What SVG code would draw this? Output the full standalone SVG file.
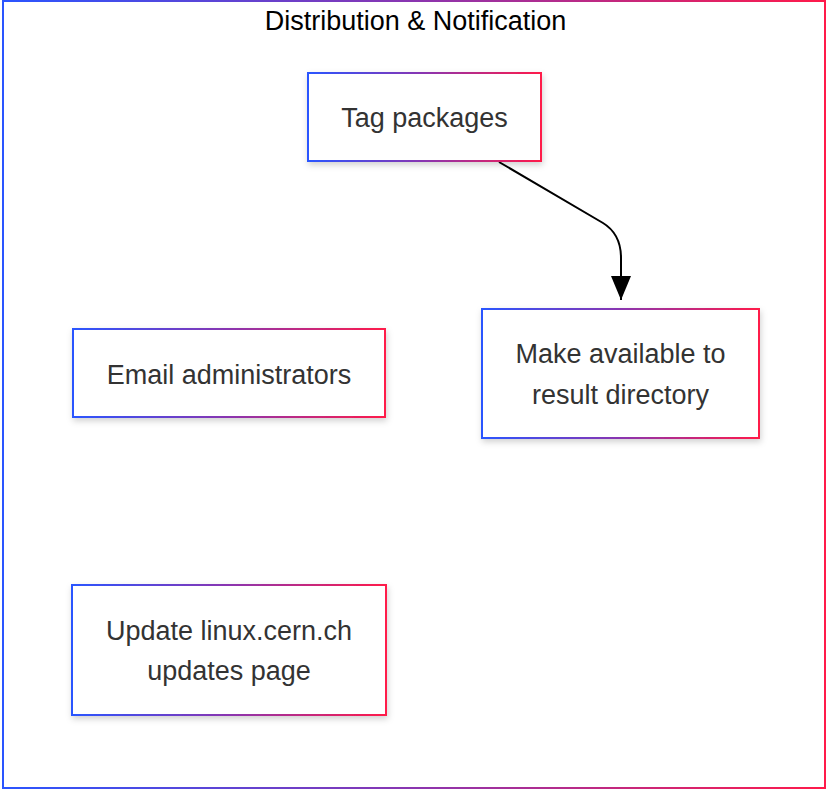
<svg xmlns="http://www.w3.org/2000/svg" width="828" height="790" viewBox="0 0 828 790">
  <defs>
    <linearGradient id="g" x1="0" y1="0" x2="1" y2="0">
      <stop offset="0" stop-color="#2a55ff"/>
      <stop offset="0.5" stop-color="#8a35b0"/>
      <stop offset="1" stop-color="#ff1a4a"/>
    </linearGradient>
    <filter id="sh" x="-10%" y="-10%" width="125%" height="130%">
      <feDropShadow dx="1" dy="3" stdDeviation="3" flood-color="#000" flood-opacity="0.18"/>
    </filter>
    <marker id="arr" viewBox="0 0 12 10" refX="12" refY="5" markerUnits="userSpaceOnUse" markerWidth="24" markerHeight="22" orient="auto">
      <path d="M0,0 L12,5 L0,10 z" fill="#000"/>
    </marker>
    <style>
      .box{fill:#fff;stroke:url(#g);stroke-width:2;filter:url(#sh)}
      .lbl{font-family:"Liberation Sans",Arial,sans-serif;font-size:27px;fill:#333;text-anchor:middle}
      .title{font-family:"Liberation Sans",Arial,sans-serif;font-size:27px;fill:#000;text-anchor:middle}
      .edge{fill:none;stroke:#000;stroke-width:2}
    </style>
  </defs>
  <rect x="0" y="0" width="828" height="790" fill="#fff"/>
  <g id="frame">
    <rect x="3" y="1" width="822" height="787" fill="#fff" stroke="url(#g)" stroke-width="2"/>
    <text class="title" x="415.5" y="30">Distribution &amp; Notification</text>
  </g>
  <g id="connectors">
    <path class="edge" d="M499,162 L603,223 Q621,234 621,258 L621,300" marker-end="url(#arr)"/>
  </g>
  <g id="tag">
    <rect class="box" x="308" y="73" width="233" height="88"/>
    <text class="lbl" x="424.5" y="127">Tag packages</text>
  </g>
  <g id="email">
    <rect class="box" x="73" y="329" width="312" height="88"/>
    <text class="lbl" x="229" y="384">Email administrators</text>
  </g>
  <g id="make">
    <rect class="box" x="482" y="309" width="277" height="129"/>
    <text class="lbl" x="620.5" y="363">Make available to</text>
    <text class="lbl" x="620.5" y="404">result directory</text>
  </g>
  <g id="update">
    <rect class="box" x="72" y="585" width="314" height="130"/>
    <text class="lbl" x="229" y="640">Update linux.cern.ch</text>
    <text class="lbl" x="229" y="680">updates page</text>
  </g>
</svg>
